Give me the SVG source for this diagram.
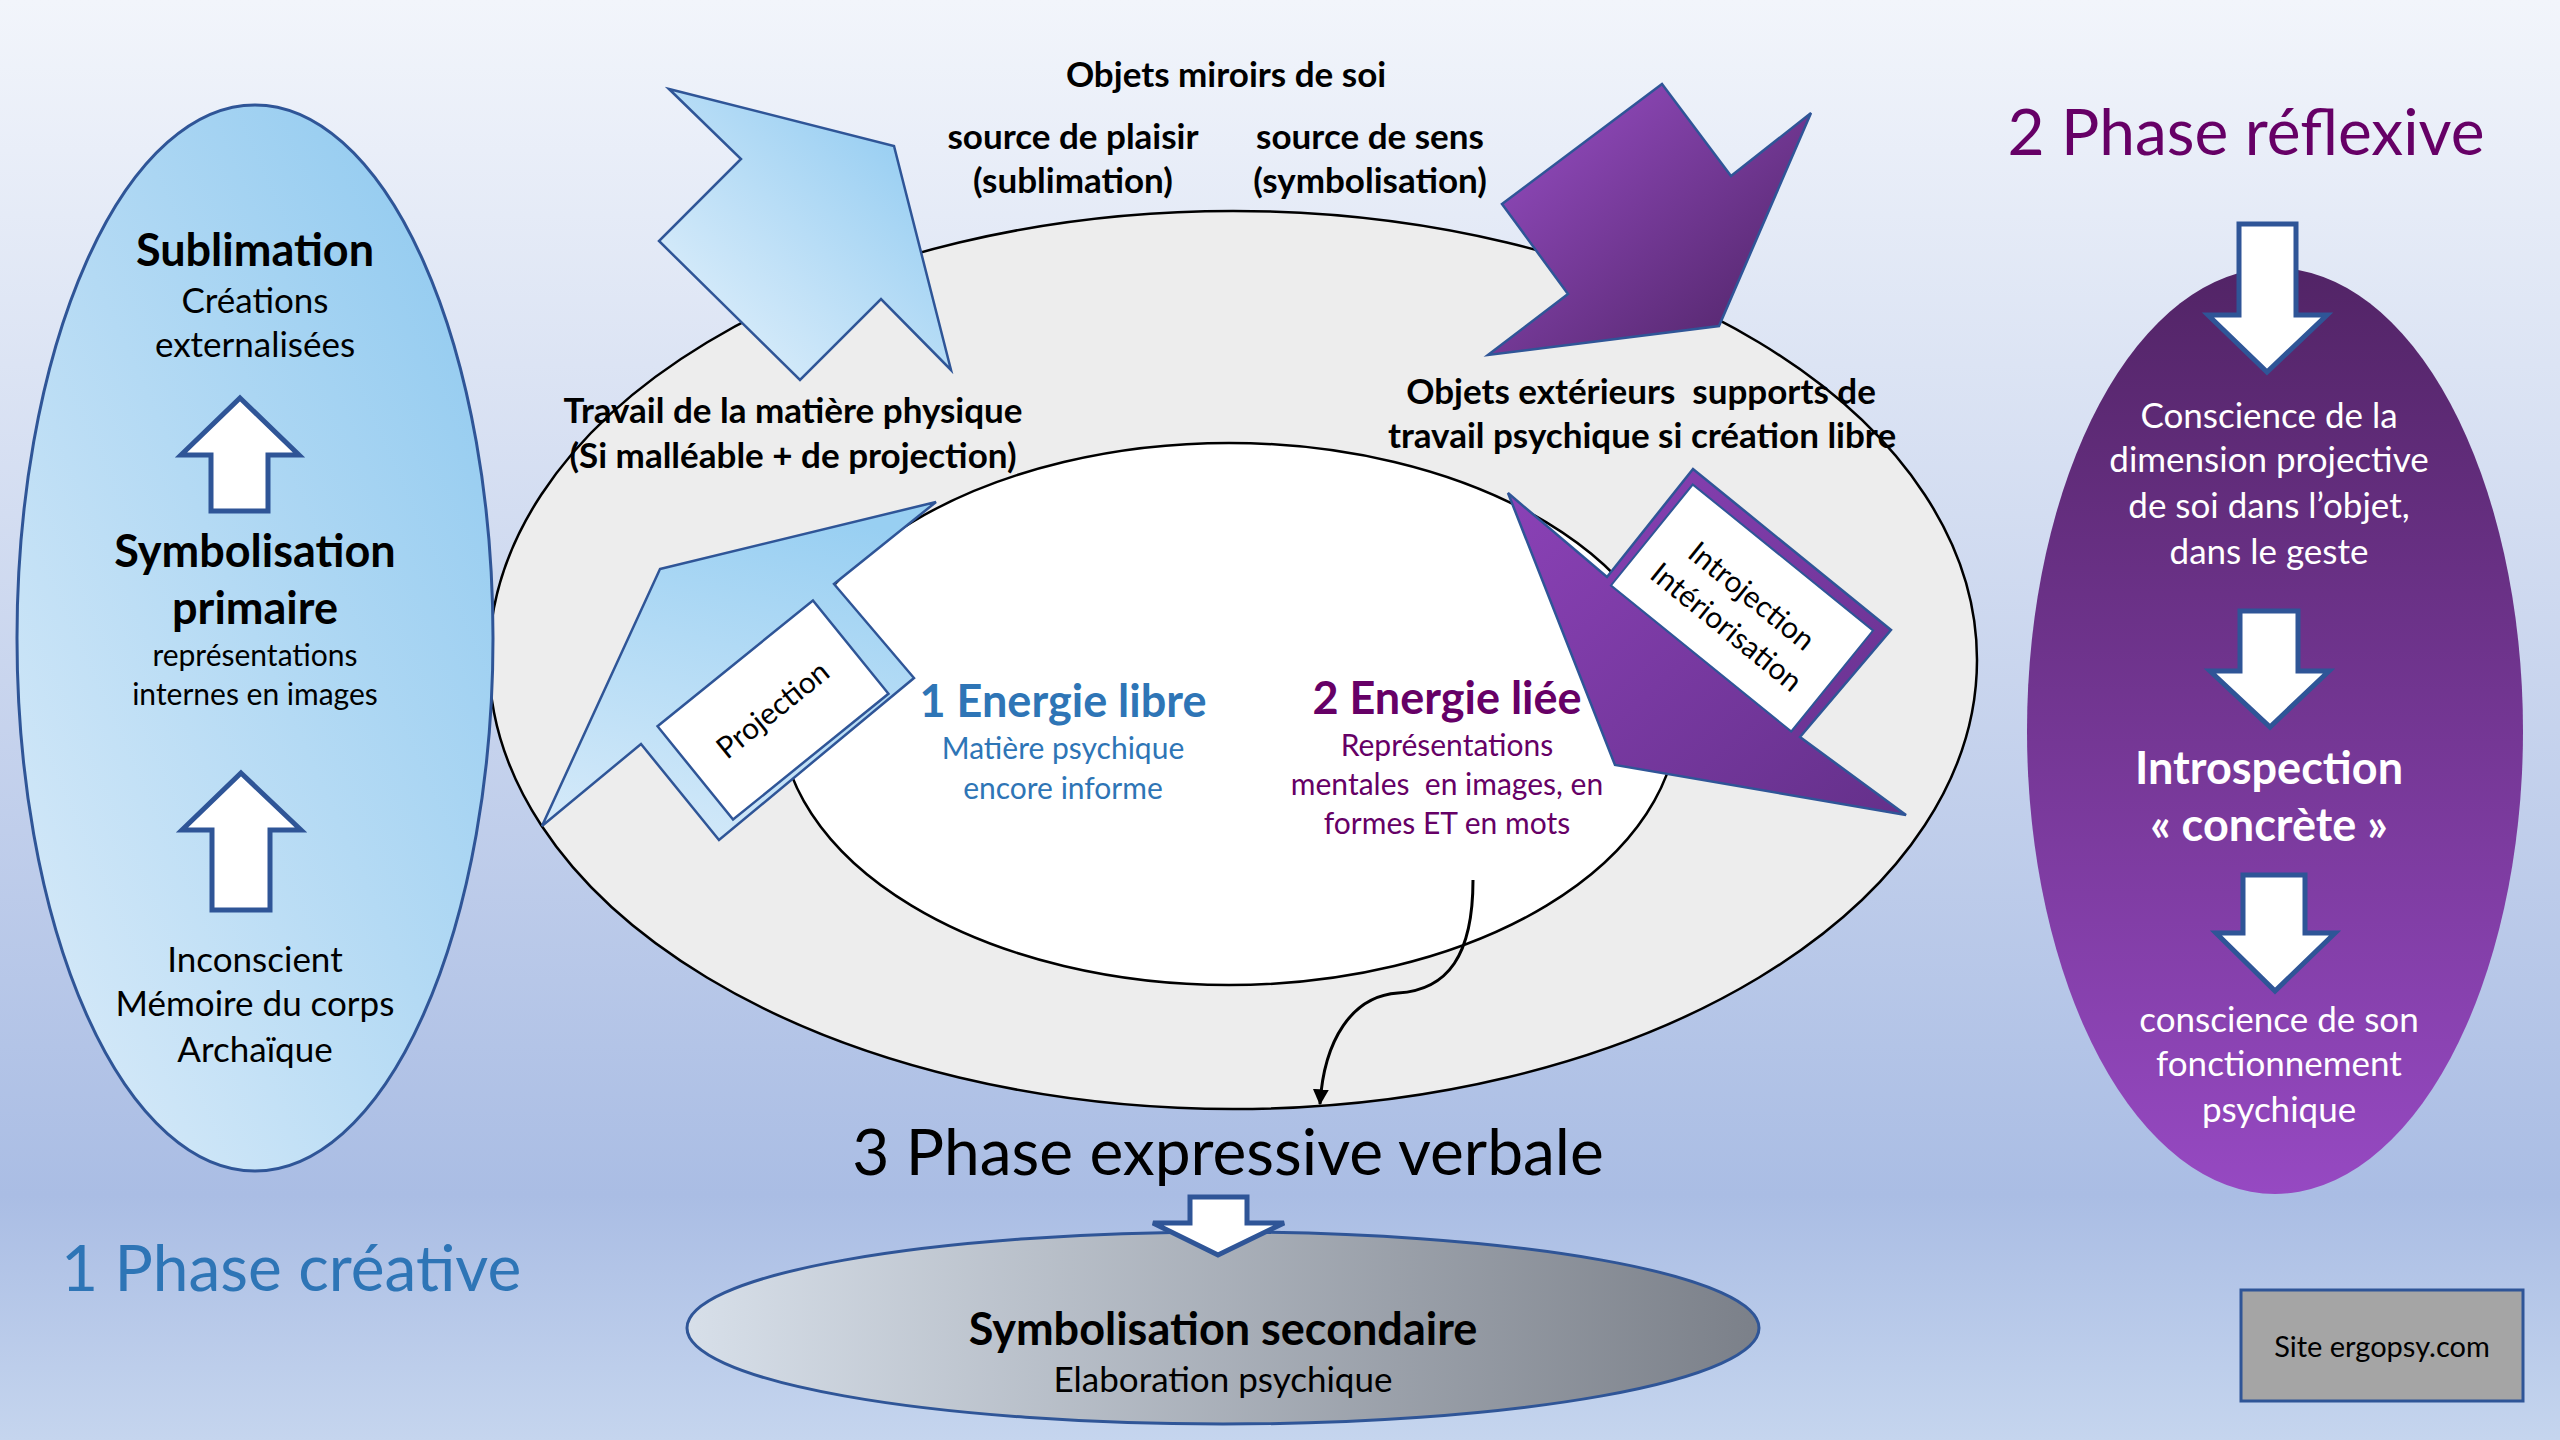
<svg xmlns="http://www.w3.org/2000/svg" width="2560" height="1440" viewBox="0 0 2560 1440">
<defs>
<linearGradient id="bg" x1="0" y1="0" x2="0" y2="1">
<stop offset="0" stop-color="#f2f5fb"/>
<stop offset="0.83" stop-color="#aabde4"/>
<stop offset="1" stop-color="#c5d5ee"/>
</linearGradient>
<linearGradient id="gLeft" x1="1" y1="0" x2="0" y2="1">
<stop offset="0" stop-color="#8cc8ef"/>
<stop offset="1" stop-color="#dcecf9"/>
</linearGradient>
<linearGradient id="gBlueArrow" x1="1" y1="0" x2="0" y2="1">
<stop offset="0" stop-color="#88c7f0"/>
<stop offset="1" stop-color="#e8f3fc"/>
</linearGradient>
<linearGradient id="gProj" x1="0.6" y1="0" x2="0.3" y2="1">
<stop offset="0" stop-color="#98cff2"/>
<stop offset="1" stop-color="#d3e9f9"/>
</linearGradient>
<linearGradient id="gPurpleTop" x1="0" y1="0" x2="1" y2="1">
<stop offset="0" stop-color="#9a4fc8"/>
<stop offset="1" stop-color="#4c2262"/>
</linearGradient>
<linearGradient id="gPurpleIntro" x1="0" y1="0" x2="1" y2="1">
<stop offset="0" stop-color="#8c42b8"/>
<stop offset="1" stop-color="#64308a"/>
</linearGradient>
<linearGradient id="gRight" x1="0" y1="0" x2="0" y2="1">
<stop offset="0" stop-color="#522466"/>
<stop offset="1" stop-color="#9649c2"/>
</linearGradient>
<linearGradient id="gBottom" x1="0" y1="0" x2="1" y2="0">
<stop offset="0" stop-color="#d7dfe9"/>
<stop offset="1" stop-color="#7b8089"/>
</linearGradient>
<marker id="ah" viewBox="0 0 12 12" refX="11" refY="6" markerWidth="16" markerHeight="16" orient="auto" markerUnits="userSpaceOnUse">
<path d="M0,0 L12,6 L0,12 z" fill="#000"/>
</marker>
</defs>
<style>
text { font-family: Lato, "Open Sans", "Liberation Sans", sans-serif; text-anchor: middle; }
.b { font-weight: bold; }
.t35 { font-size: 35px; }
.t30 { font-size: 30px; }
.t45 { font-size: 45px; font-weight: bold; }
.title { font-size: 64px; }
.blk { fill: #000; }
.blue { fill: #2e75b6; }
.purp { fill: #660066; }
.wht { fill: #fff; }
.pre { white-space: pre; }
.blockArrow { fill: #fff; stroke: #2f5597; stroke-width: 5; stroke-linejoin: miter; }
.shapeStroke { stroke: #2f5597; stroke-width: 2.5; }
</style>

<rect x="0" y="0" width="2560" height="1440" fill="url(#bg)"/>

<g id="ellipse-main">
<ellipse cx="1233" cy="660" rx="744" ry="449" fill="#ededed" stroke="#000" stroke-width="2.5"/>
</g>
<g id="ellipse-inner">
<ellipse cx="1229" cy="714" rx="449" ry="271" fill="#fff" stroke="#000" stroke-width="2.5"/>
</g>

<g id="phase-creative">
<ellipse cx="255" cy="638" rx="238" ry="533" fill="url(#gLeft)" stroke="#2f5597" stroke-width="3"/>
<text class="t45 blk" x="255" y="266">Sublimation</text>
<text class="t35 blk" x="255" y="313">Créations</text>
<text class="t35 blk" x="255" y="357">externalisées</text>
<polygon class="blockArrow" points="240,398 299,455 268,455 268,511 211,511 211,455 181,455"/>
<text class="t45 blk" x="255" y="567">Symbolisation</text>
<text class="t45 blk" x="255" y="624">primaire</text>
<text class="t30 blk" x="255" y="666">représentations</text>
<text class="t30 blk" x="255" y="705">internes en images</text>
<polygon class="blockArrow" points="241,773 301,830 270,830 270,910 212,910 212,830 182,830"/>
<text class="t35 blk" x="255" y="972">Inconscient</text>
<text class="t35 blk" x="255" y="1016">Mémoire du corps</text>
<text class="t35 blk" x="255" y="1062">Archaïque</text>
</g>

<g id="arrow-sublimation">
<polygon class="shapeStroke" fill="url(#gBlueArrow)" points="669,89 894,146 951,370 881,299 800,380 659,241 741,159"/>
</g>
<g id="arrow-symbolisation">
<polygon class="shapeStroke" fill="url(#gPurpleTop)" points="1662,84 1731,176 1811,113 1719,326 1488,355 1568,294 1502,204"/>
</g>

<g id="arrow-projection">
<polygon class="shapeStroke" fill="url(#gProj)" points="660,569 936,502 834,584 914,678 719,840 641,744 542,826"/>
<g transform="translate(773,710) rotate(-39)">
<rect x="-100" y="-60" width="200" height="120" fill="#fff" stroke="#2f5597" stroke-width="2.5"/>
<text class="t30 blk" x="0" y="10">Projection</text>
</g>
</g>

<g id="arrow-introjection">
<polygon class="shapeStroke" fill="url(#gPurpleIntro)" points="1508,493 1607,577 1693,469 1891,630 1800,737 1906,815 1615,765"/>
<g transform="translate(1742,608) rotate(39)">
<rect x="-116" y="-65" width="232" height="130" fill="#fff" stroke="#2f5597" stroke-width="2"/>
<text class="t30 blk" x="0" y="-5">Introjection</text>
<text class="t30 blk" x="0" y="35">Intériorisation</text>
</g>
</g>

<g id="labels-top">
<text class="t35 b blk" x="1226" y="87">Objets miroirs de soi</text>
<text class="t35 b blk" x="1073" y="149">source de plaisir</text>
<text class="t35 b blk" x="1073" y="193">(sublimation)</text>
<text class="t35 b blk" x="1370" y="149">source de sens</text>
<text class="t35 b blk" x="1370" y="193">(symbolisation)</text>
<text class="t35 b blk" x="793" y="423">Travail de la matière physique</text>
<text class="t35 b blk" x="793" y="468">(Si malléable + de projection)</text>
<text class="t35 b blk pre" x="1641" y="404">Objets extérieurs  supports de</text>
<text class="t35 b blk" x="1642" y="448">travail psychique si création libre</text>
</g>

<g id="energie-libre">
<text class="t45 blue" x="1063" y="717">1 Energie libre</text>
<text class="t30 blue" x="1063" y="759">Matière psychique</text>
<text class="t30 blue" x="1063" y="799">encore informe</text>
</g>
<g id="energie-liee">
<text class="t45 purp" x="1447" y="714">2 Energie liée</text>
<text class="t30 purp" x="1447" y="756">Représentations</text>
<text class="t30 purp pre" x="1447" y="795">mentales  en images, en</text>
<text class="t30 purp" x="1447" y="834">formes ET en mots</text>
</g>

<g id="phase-reflexive">
<text class="title purp" x="2246" y="155">2 Phase réflexive</text>
<ellipse cx="2275" cy="731" rx="248" ry="463" fill="url(#gRight)"/>
<polygon class="blockArrow" points="2239,224 2296,224 2296,315 2327,315 2267,372 2208,315 2239,315"/>
<text class="t35 wht" x="2269" y="428">Conscience de la</text>
<text class="t35 wht" x="2269" y="472">dimension projective</text>
<text class="t35 wht" x="2269" y="518">de soi dans l’objet,</text>
<text class="t35 wht" x="2269" y="564">dans le geste</text>
<polygon class="blockArrow" points="2240,611 2298,611 2298,671 2329,671 2270,727 2210,671 2240,671"/>
<text class="t45 wht" x="2269" y="784">Introspection</text>
<text class="t45 wht" x="2269" y="841">« concrète »</text>
<polygon class="blockArrow" points="2243,875 2305,875 2305,933 2335,933 2275,991 2216,933 2243,933"/>
<text class="t35 wht" x="2279" y="1032">conscience de son</text>
<text class="t35 wht" x="2279" y="1076">fonctionnement</text>
<text class="t35 wht" x="2279" y="1122">psychique</text>
</g>

<g id="phase-creative-title">
<text class="title blue" x="61" y="1291" style="text-anchor:start">1 Phase créative</text>
</g>

<g id="phase-expressive">
<text class="title blk" x="1228" y="1175">3 Phase expressive verbale</text>
</g>

<g id="symbolisation-secondaire">
<ellipse cx="1223" cy="1328" rx="536" ry="96" fill="url(#gBottom)" stroke="#2f5597" stroke-width="3"/>
<polygon class="blockArrow" points="1190,1197 1247,1197 1247,1223 1284,1223 1218,1255 1153,1223 1190,1223"/>
<text class="t45 blk" x="1223" y="1345">Symbolisation secondaire</text>
<text class="t35 blk" x="1223" y="1392">Elaboration psychique</text>
</g>

<g id="site">
<rect x="2241" y="1290" width="282" height="111" fill="#a5a5a5" stroke="#2f5597" stroke-width="3"/>
<text class="blk" x="2382" y="1357" style="font-size:29px">Site ergopsy.com</text>
</g>

<g id="connectors">
<path d="M1473,880 C1473,955 1448,990 1398,993 C1352,996 1324,1040 1320,1104" fill="none" stroke="#000" stroke-width="3" marker-end="url(#ah)"/>
</g>
</svg>
